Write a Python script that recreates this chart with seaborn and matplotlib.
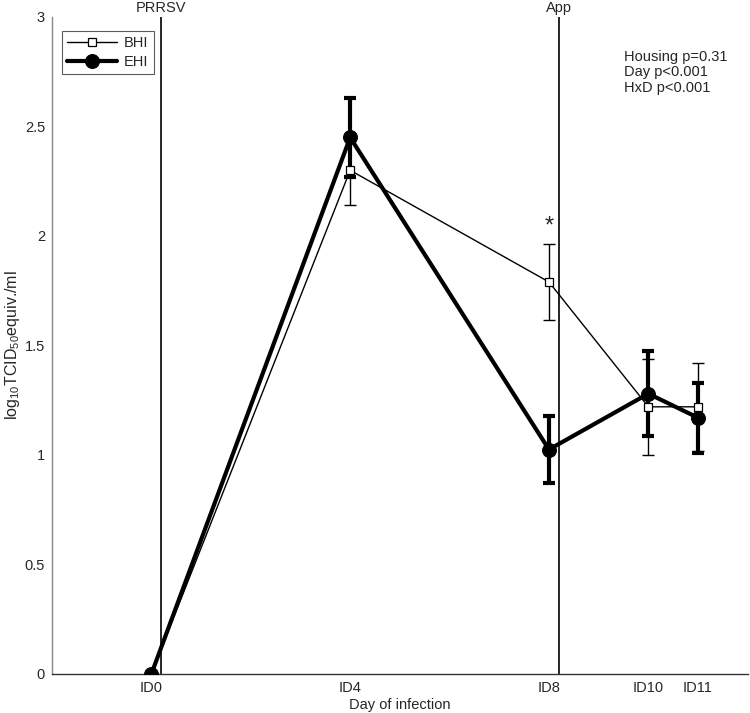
import numpy as np
import pandas as pd
import matplotlib
matplotlib.use("Agg")
import matplotlib.pyplot as plt
import seaborn as sns

# ---------------- data ----------------
days = [0, 4, 8, 10, 11]
day_labels = ["ID0", "ID4", "ID8", "ID10", "ID11"]

bhi_mean = [0.0, 2.30, 1.79, 1.22, 1.22]
bhi_err = [0.0, 0.16, 0.175, 0.22, 0.20]

ehi_mean = [0.0, 2.45, 1.025, 1.28, 1.17]
ehi_err = [0.0, 0.18, 0.155, 0.195, 0.16]

events_x = [0.2, 8.2]
events_txt = ["PRRSV", "App"]

stats_txt = "Housing p=0.31\nDay p<0.001\nHxD p<0.001"

df = pd.DataFrame({
    "Day": days * 2,
    "Value": bhi_mean + ehi_mean,
    "Group": ["BHI"] * len(days) + ["EHI"] * len(days),
})

# ---------------- style ----------------
sns.set_style("white")
plt.rcParams["font.family"] = ["Liberation Sans", "DejaVu Sans"]
plt.rcParams.update({
    "font.size": 10.5,
    "xtick.direction": "in",
    "ytick.direction": "in",
    "mathtext.fontset": "custom",
    "mathtext.rm": "Liberation Sans",
    "mathtext.it": "Liberation Sans",
})
FS = 10.5

fig = plt.figure(figsize=(7.5, 7.13), dpi=100)
ax = fig.add_axes([0.0693, 0.0547, 0.9277, 0.9215])

# event lines
for xv, t in zip(events_x, events_txt):
    ax.axvline(xv, color="black", linewidth=1.2, zorder=1)
    ax.text(xv, 3.022, t, ha="center", va="baseline", fontsize=FS)

# error bars
ax.errorbar(days, bhi_mean, yerr=bhi_err, fmt="none", ecolor="black",
            elinewidth=1.0, capsize=4, capthick=1.0, zorder=2)
ax.errorbar(days, ehi_mean, yerr=ehi_err, fmt="none", ecolor="black",
            elinewidth=3.0, capsize=4, capthick=3.0, zorder=3)

# lines
sns.lineplot(data=df[df["Group"] == "BHI"], x="Day", y="Value", ax=ax,
             color="black", linewidth=1.0, marker="s", markersize=6,
             markerfacecolor="white", markeredgecolor="black",
             markeredgewidth=0.9, label="BHI", zorder=4)
sns.lineplot(data=df[df["Group"] == "EHI"], x="Day", y="Value", ax=ax,
             color="black", linewidth=3.0, marker="o", markersize=10,
             markerfacecolor="black", markeredgecolor="black",
             label="EHI", zorder=5)

# significance mark
ax.text(days[2], bhi_mean[2] + bhi_err[2] + 0.03, "*", ha="center",
        va="bottom", fontsize=17)

ax.text(9.5, 2.85, stats_txt, ha="left", va="top", fontsize=FS,
        linespacing=1.15)

ax.set_xlim(-2, 12)
ax.set_ylim(0, 3)
ax.set_xticks(days)
ax.set_xticklabels(day_labels)
ax.set_yticks([0, 0.5, 1, 1.5, 2, 2.5, 3])
ax.set_yticklabels(["0", "0.5", "1", "1.5", "2", "2.5", "3"])
ax.set_xlabel("Day of infection", fontsize=FS)
ax.set_ylabel("log$_{10}$TCID$_{50}$equiv./ml", fontsize=11.5)
ax.xaxis.set_label_coords(0.5, -0.036)
ax.yaxis.set_label_coords(-0.043, 0.5)

ax.tick_params(axis="both", length=4, width=0.8, color="#555555", labelsize=FS)
ax.tick_params(axis="x", pad=5)
ax.tick_params(axis="y", pad=5)
for s in ["top", "right"]:
    ax.spines[s].set_visible(False)
ax.spines["left"].set_color("#888888")
ax.spines["bottom"].set_color("#333333")
ax.spines["left"].set_linewidth(1.0)
ax.spines["bottom"].set_linewidth(1.0)

leg = ax.legend(loc="upper left", bbox_to_anchor=(0.004, 0.99), frameon=True,
                fancybox=False, edgecolor="#333333", fontsize=FS,
                handlelength=3.4, borderpad=0.35, labelspacing=0.35,
                handletextpad=0.5)
leg.get_frame().set_linewidth(0.8)

fig.savefig("out.png", dpi=100)
